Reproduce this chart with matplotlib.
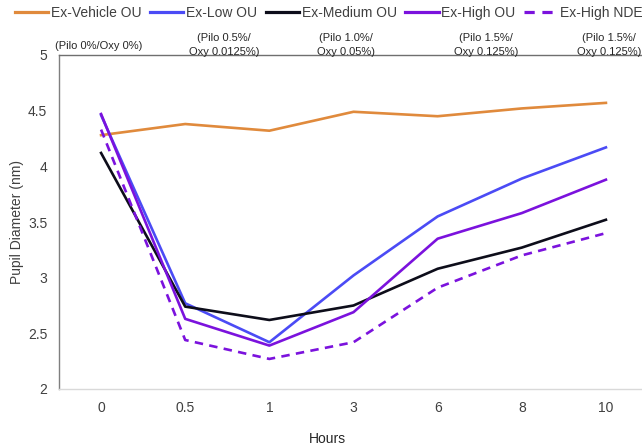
import matplotlib
matplotlib.use("Agg")
import matplotlib.pyplot as plt

plt.rcParams['font.family'] = ['Liberation Sans', 'DejaVu Sans']

hours = ['0', '0.5', '1', '3', '6', '8', '10']

vehicle = [4.28, 4.38, 4.32, 4.49, 4.45, 4.52, 4.57]
low = [4.46, 2.77, 2.42, 3.02, 3.55, 3.89, 4.17]
medium = [4.12, 2.74, 2.62, 2.75, 3.08, 3.27, 3.52]
high = [4.47, 2.63, 2.39, 2.69, 3.35, 3.58, 3.88]
high_nde = [4.33, 2.44, 2.27, 2.42, 2.91, 3.20, 3.40]

names = ['Ex-Vehicle OU', 'Ex-Low OU', 'Ex-Medium OU', 'Ex-High OU', 'Ex-High NDE']
subtitles = ['(Pilo 0%/Oxy 0%)', '(Pilo 0.5%/\nOxy 0.0125%)', '(Pilo 1.0%/\nOxy 0.05%)',
             '(Pilo 1.5%/\nOxy 0.125%)', '(Pilo 1.5%/\nOxy 0.125%)']

fig = plt.figure(figsize=(6.42, 4.48), dpi=100)
W, H = 642, 448
ax = fig.add_axes([59 / W, 1 - 389 / H, (648 - 59) / W, (389 - 55) / H])

x = range(len(hours))
ax.plot(x, vehicle, color='#e08a3c', lw=1.9, label=names[0])
ax.plot(x, low, color='#4b4bf5', lw=1.9, label=names[1])
ax.plot(x, medium, color='#0d0d1a', lw=1.9, label=names[2])
ax.plot(x, high, color='#7b12dd', lw=1.9, label=names[3])
ax.plot(x, high_nde, color='#7b12dd', lw=1.9, ls=(0, (3.2, 2.4)), label=names[4])

ax.set_xlim(-0.5, 6.5)
ax.set_ylim(2, 5)
ax.set_xticks(list(x))
ax.set_xticklabels(hours)
ax.set_yticks([2, 2.5, 3, 3.5, 4, 4.5, 5])
ax.set_yticklabels(['2', '2.5', '3', '3.5', '4', '4.5', '5'])
ax.tick_params(axis='both', length=0, labelsize=10, labelcolor='#404040')
ax.tick_params(axis='y', pad=8.5)
ax.tick_params(axis='x', pad=8.4)

ax.spines['right'].set_visible(False)
ax.spines['left'].set_color('#7f7f7f')
ax.spines['top'].set_color('#6f6f6f')
ax.spines['bottom'].set_color('#d9d9d9')
for s in ax.spines.values():
    s.set_linewidth(1.0)

ax.set_xlabel('Hours', fontsize=10, color='#262626')
ax.xaxis.set_label_coords((327 - 59) / 589, (389 - 432) / 334)
ax.set_ylabel('Pupil Diameter (nm)', fontsize=10, color='#404040', labelpad=3)

leg = fig.legend(loc='upper left', bbox_to_anchor=(15 / W, 1 - 6 / H), ncol=5, frameon=False,
                 fontsize=10, handlelength=2.4, handletextpad=0.2, columnspacing=0.6,
                 borderaxespad=0, borderpad=0, labelcolor='#404040')
for h in leg.legend_handles:
    h.set_linewidth(2.3)

sub_x = [99, 224, 346, 486, 609]
for sx, t in zip(sub_x, subtitles):
    yy = 46 if '\n' not in t else 45
    fig.text(sx / W, 1 - yy / H, t, ha='center', va='center', fontsize=8,
             color='#262626', linespacing=1.45)

fig.savefig('out.png', dpi=100)
